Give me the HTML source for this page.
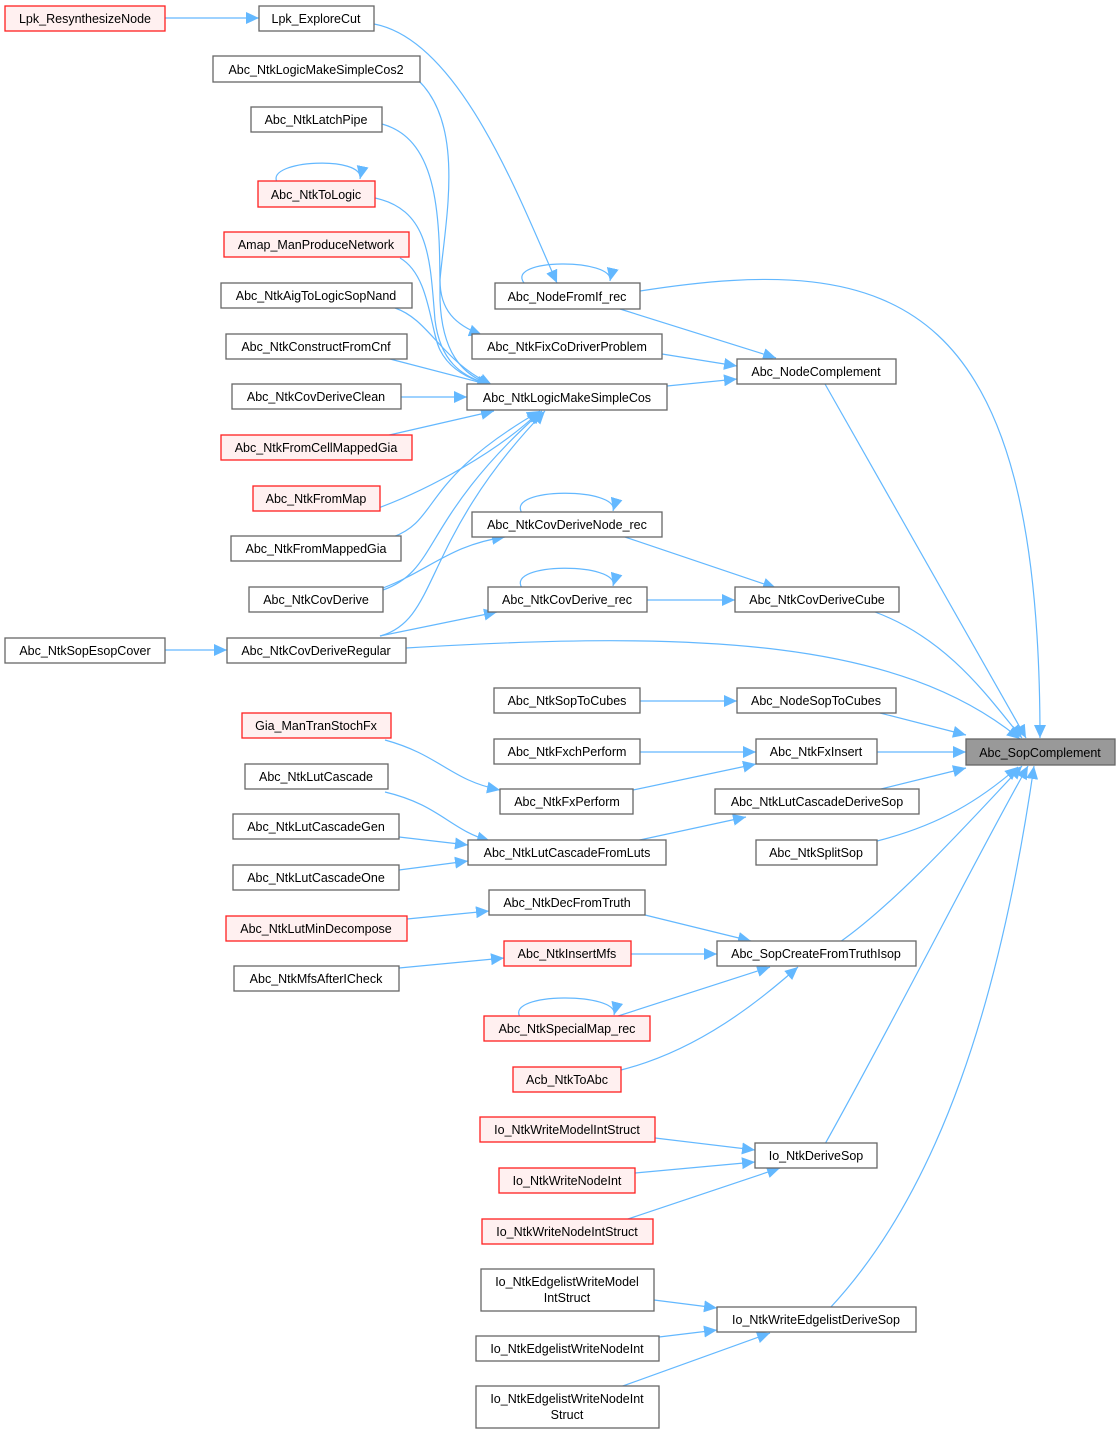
<!DOCTYPE html>
<html><head><meta charset="utf-8"><style>
html,body{margin:0;padding:0;background:#fff;}
svg{display:block;}
text{font-family:"Liberation Sans",Arial,sans-serif;font-size:12.5px;fill:#000;text-anchor:middle;}
.n{fill:#fff;stroke:#666;stroke-width:1.3;}
.r{fill:#fff0f0;stroke:#ff2020;stroke-width:1.3;}
.t{fill:#999;stroke:#666;stroke-width:1.3;}
.e{fill:none;stroke:#63b8ff;stroke-width:1.2;marker-end:url(#a);}
</style></head><body>
<svg width="1120" height="1435" viewBox="0 0 1120 1435" xmlns="http://www.w3.org/2000/svg">
<defs><marker id="a" markerUnits="userSpaceOnUse" markerWidth="14" markerHeight="12" refX="13" refY="6" orient="auto"><path d="M0,0 L13,6 L0,12 z" fill="#63b8ff"/></marker></defs>
<g>
<path class="e" d="M165,18 L259,18"/>
<path class="e" d="M374,24 C460,40 520,200 557,283"/>
<path class="e" d="M524,283 C505,258 615,258 610,281"/>
<path class="e" d="M640,291 C900,250 1040,300 1040,738"/>
<path class="e" d="M620,309 L776,358"/>
<path class="e" d="M662,354 L737,366"/>
<path class="e" d="M667,386 L737,379"/>
<path class="e" d="M825,384 L1026,738"/>
<path class="e" d="M405,70 C470,110 445,220 440,280 C440,310 455,325 482,335"/>
<path class="e" d="M382,124 C440,140 440,220 440,300 C442,350 460,375 492,385"/>
<path class="e" d="M277,182 C265,160 365,155 360,179"/>
<path class="e" d="M375,198 C430,210 430,260 435,320 C440,360 460,377 492,385"/>
<path class="e" d="M400,258 C430,275 430,330 440,350 C450,370 470,380 492,385"/>
<path class="e" d="M395,308 C430,320 440,360 492,385"/>
<path class="e" d="M390,359 L490,385"/>
<path class="e" d="M401,397 L467,397"/>
<path class="e" d="M385,436 L494,411"/>
<path class="e" d="M370,511 C430,490 500,450 540,411"/>
<path class="e" d="M393,537 C440,520 420,480 540,411"/>
<path class="e" d="M383,590 C440,570 420,520 542,411"/>
<path class="e" d="M380,636 C440,620 420,540 545,411"/>
<path class="e" d="M522,513 C505,487 620,487 613,511"/>
<path class="e" d="M625,537 L776,588"/>
<path class="e" d="M383,588 C430,570 450,545 505,537"/>
<path class="e" d="M380,636 L497,612"/>
<path class="e" d="M522,588 C505,562 620,562 613,586"/>
<path class="e" d="M647,600 L735,600"/>
<path class="e" d="M875,612 C950,640 990,700 1022,738"/>
<path class="e" d="M406,648 C700,630 900,640 1020,739"/>
<path class="e" d="M165,650 L227,650"/>
<path class="e" d="M640,701 L737,701"/>
<path class="e" d="M880,713 L966,735"/>
<path class="e" d="M640,752 L756,752"/>
<path class="e" d="M633,790 L756,764"/>
<path class="e" d="M877,752 L966,752"/>
<path class="e" d="M385,740 C440,755 450,780 500,790"/>
<path class="e" d="M385,792 C440,805 450,830 490,841"/>
<path class="e" d="M399,837 L468,845"/>
<path class="e" d="M399,870 L468,861"/>
<path class="e" d="M635,841 L746,817"/>
<path class="e" d="M877,790 L966,768"/>
<path class="e" d="M877,841 C940,825 980,800 1018,767"/>
<path class="e" d="M407,919 L489,911"/>
<path class="e" d="M399,968 L504,958"/>
<path class="e" d="M645,915 L751,941"/>
<path class="e" d="M631,954 L717,954"/>
<path class="e" d="M520,1017 C505,992 620,992 614,1015"/>
<path class="e" d="M615,1017 L770,967"/>
<path class="e" d="M621,1070 C700,1050 760,1000 798,967"/>
<path class="e" d="M840,942 C900,900 980,810 1022,766"/>
<path class="e" d="M655,1138 L755,1150"/>
<path class="e" d="M635,1173 L755,1162"/>
<path class="e" d="M625,1220 L780,1168"/>
<path class="e" d="M825,1144 C900,1010 980,850 1028,766"/>
<path class="e" d="M654,1300 L717,1308"/>
<path class="e" d="M659,1337 L717,1330"/>
<path class="e" d="M620,1387 L770,1333"/>
<path class="e" d="M830,1308 C940,1190 1000,1000 1034,766"/>
</g>
<g>
<rect class="r" x="5" y="6" width="160" height="25"/><text x="85" y="23">Lpk_ResynthesizeNode</text>
<rect class="n" x="5" y="638" width="160" height="25"/><text x="85" y="655">Abc_NtkSopEsopCover</text>
<rect class="n" x="259" y="6" width="115" height="25"/><text x="316" y="23">Lpk_ExploreCut</text>
<rect class="n" x="213" y="56" width="207" height="26"/><text x="316" y="74">Abc_NtkLogicMakeSimpleCos2</text>
<rect class="n" x="251" y="107" width="131" height="25"/><text x="316" y="124">Abc_NtkLatchPipe</text>
<rect class="r" x="258" y="181" width="117" height="26"/><text x="316" y="199">Abc_NtkToLogic</text>
<rect class="r" x="224" y="232" width="185" height="25"/><text x="316" y="249">Amap_ManProduceNetwork</text>
<rect class="n" x="221" y="283" width="191" height="25"/><text x="316" y="300">Abc_NtkAigToLogicSopNand</text>
<rect class="n" x="226" y="334" width="181" height="25"/><text x="316" y="351">Abc_NtkConstructFromCnf</text>
<rect class="n" x="232" y="384" width="169" height="25"/><text x="316" y="401">Abc_NtkCovDeriveClean</text>
<rect class="r" x="221" y="435" width="191" height="25"/><text x="316" y="452">Abc_NtkFromCellMappedGia</text>
<rect class="r" x="253" y="486" width="127" height="25"/><text x="316" y="503">Abc_NtkFromMap</text>
<rect class="n" x="231" y="536" width="170" height="25"/><text x="316" y="553">Abc_NtkFromMappedGia</text>
<rect class="n" x="249" y="587" width="134" height="25"/><text x="316" y="604">Abc_NtkCovDerive</text>
<rect class="n" x="227" y="638" width="179" height="25"/><text x="316" y="655">Abc_NtkCovDeriveRegular</text>
<rect class="r" x="242" y="713" width="149" height="25"/><text x="316" y="730">Gia_ManTranStochFx</text>
<rect class="n" x="245" y="764" width="143" height="25"/><text x="316" y="781">Abc_NtkLutCascade</text>
<rect class="n" x="233" y="814" width="166" height="25"/><text x="316" y="831">Abc_NtkLutCascadeGen</text>
<rect class="n" x="233" y="865" width="166" height="25"/><text x="316" y="882">Abc_NtkLutCascadeOne</text>
<rect class="r" x="226" y="916" width="181" height="25"/><text x="316" y="933">Abc_NtkLutMinDecompose</text>
<rect class="n" x="234" y="966" width="165" height="25"/><text x="316" y="983">Abc_NtkMfsAfterICheck</text>

<rect class="n" x="495" y="283" width="145" height="26"/><text x="567" y="301">Abc_NodeFromIf_rec</text>
<rect class="n" x="472" y="334" width="190" height="25"/><text x="567" y="351">Abc_NtkFixCoDriverProblem</text>
<rect class="n" x="467" y="384" width="200" height="26"/><text x="567" y="402">Abc_NtkLogicMakeSimpleCos</text>
<rect class="n" x="472" y="512" width="190" height="25"/><text x="567" y="529">Abc_NtkCovDeriveNode_rec</text>
<rect class="n" x="488" y="587" width="159" height="25"/><text x="567" y="604">Abc_NtkCovDerive_rec</text>
<rect class="n" x="494" y="688" width="146" height="25"/><text x="567" y="705">Abc_NtkSopToCubes</text>
<rect class="n" x="494" y="739" width="146" height="25"/><text x="567" y="756">Abc_NtkFxchPerform</text>
<rect class="n" x="500" y="789" width="133" height="25"/><text x="567" y="806">Abc_NtkFxPerform</text>
<rect class="n" x="468" y="840" width="198" height="25"/><text x="567" y="857">Abc_NtkLutCascadeFromLuts</text>
<rect class="n" x="489" y="890" width="156" height="25"/><text x="567" y="907">Abc_NtkDecFromTruth</text>
<rect class="r" x="504" y="941" width="127" height="25"/><text x="567" y="958">Abc_NtkInsertMfs</text>
<rect class="r" x="484" y="1016" width="166" height="25"/><text x="567" y="1033">Abc_NtkSpecialMap_rec</text>
<rect class="r" x="513" y="1067" width="108" height="25"/><text x="567" y="1084">Acb_NtkToAbc</text>
<rect class="r" x="480" y="1117" width="175" height="25"/><text x="567" y="1134">Io_NtkWriteModelIntStruct</text>
<rect class="r" x="499" y="1168" width="136" height="25"/><text x="567" y="1185">Io_NtkWriteNodeInt</text>
<rect class="r" x="482" y="1219" width="171" height="25"/><text x="567" y="1236">Io_NtkWriteNodeIntStruct</text>
<rect class="n" x="481" y="1269" width="173" height="42"/><text x="567" y="1286">Io_NtkEdgelistWriteModel</text><text x="567" y="1302">IntStruct</text>
<rect class="n" x="476" y="1336" width="183" height="25"/><text x="567" y="1353">Io_NtkEdgelistWriteNodeInt</text>
<rect class="n" x="476" y="1386" width="183" height="42"/><text x="567" y="1403">Io_NtkEdgelistWriteNodeInt</text><text x="567" y="1419">Struct</text>

<rect class="n" x="737" y="359" width="159" height="25"/><text x="816" y="376">Abc_NodeComplement</text>
<rect class="n" x="735" y="587" width="164" height="25"/><text x="817" y="604">Abc_NtkCovDeriveCube</text>
<rect class="n" x="737" y="688" width="159" height="25"/><text x="816" y="705">Abc_NodeSopToCubes</text>
<rect class="n" x="756" y="739" width="121" height="25"/><text x="816" y="756">Abc_NtkFxInsert</text>
<rect class="n" x="715" y="789" width="204" height="25"/><text x="817" y="806">Abc_NtkLutCascadeDeriveSop</text>
<rect class="n" x="756" y="840" width="121" height="25"/><text x="816" y="857">Abc_NtkSplitSop</text>
<rect class="n" x="717" y="941" width="199" height="25"/><text x="816" y="958">Abc_SopCreateFromTruthIsop</text>
<rect class="n" x="755" y="1143" width="122" height="25"/><text x="816" y="1160">Io_NtkDeriveSop</text>
<rect class="n" x="717" y="1307" width="199" height="25"/><text x="816" y="1324">Io_NtkWriteEdgelistDeriveSop</text>

<rect class="t" x="966" y="739" width="149" height="26"/><text x="1040" y="757">Abc_SopComplement</text>
</g>
</svg>
</body></html>
